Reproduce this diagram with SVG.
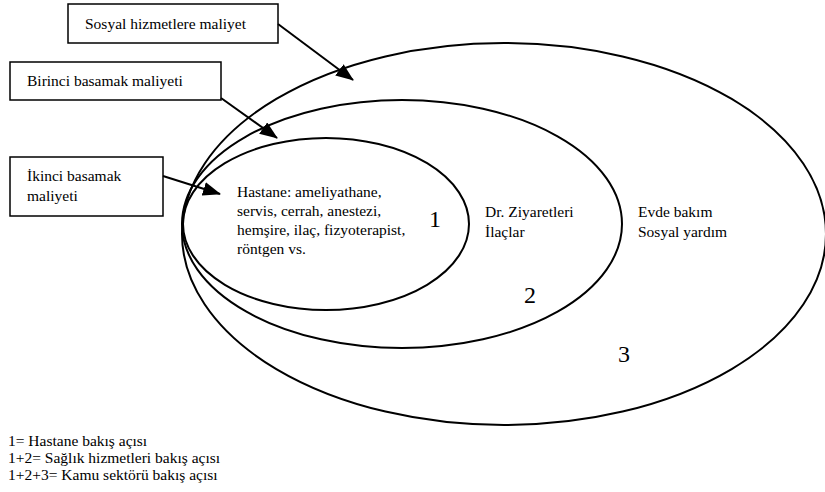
<svg xmlns="http://www.w3.org/2000/svg" width="825" height="492" viewBox="0 0 825 492">
<style>
.t{font-size:15.5px}
.n{font-size:24px;text-anchor:middle}
.ring{fill:none;stroke:#000;stroke-width:2}
.box{fill:#fff;stroke:#000;stroke-width:1.5}
.arr{fill:none;stroke:#000;stroke-width:2;marker-end:url(#ah)}
</style>
<defs>
<marker id="ah" markerUnits="userSpaceOnUse" markerWidth="18" markerHeight="14" refX="17" refY="7" orient="auto" viewBox="0 0 18 14">
<path d="M0,0 L18,7 L0,14 Z" fill="#000"/>
</marker>
</defs>
<g font-family="'Liberation Serif', 'Times New Roman', 'DejaVu Serif', serif" fill="#000">
<g id="ring3"><ellipse class="ring" cx="504" cy="234" rx="322" ry="191"/>
<text class="t" x="638" y="217">Evde bakım</text>
<text class="t" x="638" y="237">Sosyal yardım</text>
<text class="n" x="624" y="362">3</text></g>
<g id="ring2"><ellipse class="ring" cx="402" cy="224" rx="220" ry="124"/>
<text class="t" x="485" y="217">Dr. Ziyaretleri</text>
<text class="t" x="485" y="237">İlaçlar</text>
<text class="n" x="530" y="303">2</text></g>
<g id="ring1"><ellipse class="ring" cx="326" cy="224" rx="143" ry="86"/>
<text class="t" x="237" y="197">Hastane: ameliyathane,</text>
<text class="t" x="237" y="216">servis, cerrah, anestezi,</text>
<text class="t" x="237" y="235">hemşire, ilaç, fizyoterapist,</text>
<text class="t" x="237" y="254">röntgen vs.</text>
<text class="n" x="435" y="227">1</text></g>
<g id="box-sosyal"><rect class="box" x="68" y="4" width="210" height="39"/>
<text class="t" x="85" y="29">Sosyal hizmetlere maliyet</text></g>
<g id="box-birinci"><rect class="box" x="10" y="62" width="211" height="38"/>
<text class="t" x="27" y="86">Birinci basamak maliyeti</text></g>
<g id="box-ikinci"><rect class="box" x="10" y="157" width="153" height="59"/>
<text class="t" x="27" y="181">İkinci basamak</text>
<text class="t" x="27" y="201">maliyeti</text></g>
<g id="connectors">
<line class="arr" x1="278" y1="24" x2="353" y2="80"/>
<line class="arr" x1="221" y1="98" x2="277" y2="138"/>
<line class="arr" x1="163" y1="176" x2="220" y2="194"/>
</g>
<g id="legend">
<text class="t" x="8" y="446">1= Hastane bakış açısı</text>
<text class="t" x="8" y="463">1+2= Sağlık hizmetleri bakış açısı</text>
<text class="t" x="8" y="480">1+2+3= Kamu sektörü bakış açısı</text>
</g>
</g>
</svg>
